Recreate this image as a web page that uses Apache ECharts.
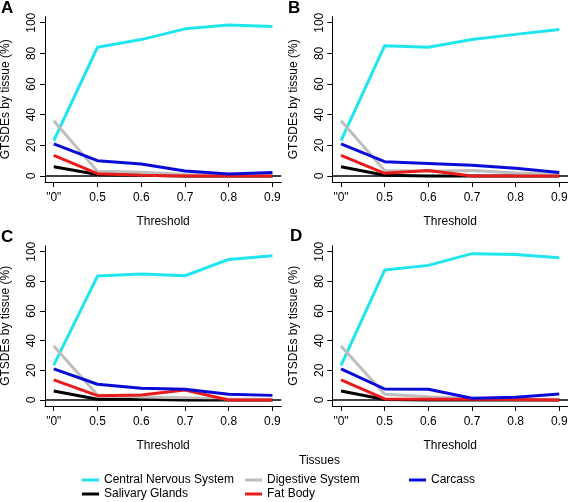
<!DOCTYPE html>
<html>
<head>
<meta charset="utf-8">
<script src="https://cdn.jsdelivr.net/npm/echarts@6/dist/echarts.min.js"></script>
<style>
html,body{margin:0;padding:0;background:#fff;}
#chart{width:568px;height:502px;}
</style>
</head>
<body>
<div id="chart"></div>
<script>
// ---- data ----
const thresholds = ['"0"', '0.5', '0.6', '0.7', '0.8', '0.9'];
const yTicks = [0, 20, 40, 60, 80, 100];
const tissues = ['Central Nervous System', 'Salivary Glands', 'Digestive System', 'Fat Body', 'Carcass'];
const tissueColors = ['#1fe6ee', '#000000', '#bebebe', '#e81c1c', '#0b0bd8'];
const panelLetters = ['A', 'B', 'C', 'D'];

// Panel A
const cnsA = [23, 84, 89, 96, 98.5, 97.5];
const salA = [6, 1, 0.5, 0, 0, 0];
const digA = [36, 3, 2.5, 1, 0.5, 0.5];
const fatA = [13.5, 1.5, 0.5, 0, 0, 0];
const carA = [21, 10, 7.8, 3.3, 1.3, 2.2];
// Panel B
const cnsB = [23, 85, 84, 89, 92.4, 95.6];
const salB = [6, 0.5, 0, 0, 0, 0];
const digB = [36, 3.5, 3, 3.5, 2, 1];
const fatB = [13.5, 1.7, 3.5, 0, 0, 0];
const carB = [21, 9.3, 8.2, 7, 5, 2.2];
// Panel C
const cnsC = [23.5, 83.6, 85, 83.8, 94.8, 97.3];
const salC = [6, 0.5, 0.5, 0, 0, 0];
const digC = [36.4, 3.4, 2, 1.5, 0.5, 0.5];
const fatC = [13.5, 2.9, 3.4, 6.7, 0, 0];
const carC = [21, 10.6, 7.9, 7.2, 3.8, 3.1];
// Panel D
const cnsD = [23.4, 87.6, 90.8, 98.7, 98.2, 96];
const salD = [6, 0.3, 0, 0, 0, 0];
const digD = [36.4, 3.8, 2.2, 1, 0.5, 0.5];
const fatD = [13.5, 0.7, 0.5, 0.5, 0.3, 0];
const carD = [21, 7.4, 7.2, 1.1, 1.8, 4];

const panels = [
  [cnsA, salA, digA, fatA, carA],
  [cnsB, salB, digB, fatB, carB],
  [cnsC, salC, digC, fatC, carC],
  [cnsD, salD, digD, fatD, carD]
];

// ---- layout ----
const FONT = 'Liberation Sans, Arial, Helvetica, sans-serif';
const gridPos = [
  {left: 45, top: 16.6, width: 236.2, height: 165.5},
  {left: 332.3, top: 16.6, width: 235.7, height: 165.5},
  {left: 45, top: 245.8, width: 236.2, height: 160.1},
  {left: 332.3, top: 245.8, width: 235.7, height: 160.1}
];
const letterPos = [
  {left: 1, top: 0},
  {left: 288, top: 0},
  {left: 1, top: 229},
  {left: 290, top: 228}
];

const grids = [], xAxes = [], yAxes = [], series = [], titles = [];
const xIdx = thresholds.map((_, i) => i);

gridPos.forEach((g, p) => {
  grids.push(Object.assign({outerBoundsMode: 'none', containLabel: false}, g));
  xAxes.push({
    type: 'value', gridIndex: p, min: -0.2, max: 5.2,
    name: 'Threshold', nameLocation: 'middle', nameGap: 34,
    nameTextStyle: {fontFamily: FONT, fontSize: 12, color: '#000'},
    axisLine: {show: true, onZero: false, lineStyle: {color: '#000', width: 1}},
    axisTick: {show: true, length: 5, customValues: xIdx, lineStyle: {color: '#000', width: 1}},
    axisLabel: {show: true, customValues: xIdx, margin: 10, fontFamily: FONT, fontSize: 12, color: '#000',
      formatter: v => thresholds[Math.round(v)]},
    splitLine: {show: false}
  });
  yAxes.push({
    type: 'value', gridIndex: p, min: -4, max: 104,
    name: 'GTSDEs by tissue (%)', nameLocation: 'middle', nameGap: 33,
    nameTextStyle: {fontFamily: FONT, fontSize: 12, color: '#000'},
    axisLine: {show: true, onZero: false, lineStyle: {color: '#000', width: 1}},
    axisTick: {show: true, length: 5, customValues: yTicks, lineStyle: {color: '#000', width: 1}},
    axisLabel: {show: true, customValues: yTicks, rotate: 90, margin: 7, fontFamily: FONT, fontSize: 12, color: '#000'},
    splitLine: {show: false}
  });
  panels[p].forEach((vals, t) => {
    const s = {
      type: 'line', name: tissues[t], xAxisIndex: p, yAxisIndex: p,
      data: vals.map((v, i) => [i, v]),
      showSymbol: false, symbol: 'none',
      color: tissueColors[t],
      lineStyle: {color: tissueColors[t], width: 3},
      z: 2 + t
    };
    if (t === 1) {
      s.markLine = {
        silent: true, symbol: ['none', 'none'], label: {show: false},
        lineStyle: {color: '#000', width: 1.5, type: 'solid'},
        data: [{yAxis: 0}]
      };
    }
    series.push(s);
  });
  titles.push({
    text: panelLetters[p], left: letterPos[p].left, top: letterPos[p].top, padding: 0,
    textStyle: {fontFamily: FONT, fontSize: 17, fontWeight: 'bold', color: '#000'}
  });
});

titles.push({
  text: 'Tissues', left: 299, top: 455, padding: 0,
  textStyle: {fontFamily: FONT, fontSize: 12, fontWeight: 'normal', color: '#000'}
});

const legendPos = [
  {left: 82, top: 474}, // CNS
  {left: 82, top: 488}, // Salivary
  {left: 245, top: 474}, // Digestive
  {left: 245, top: 488}, // Fat body
  {left: 409, top: 474}  // Carcass
];
const legends = tissues.map((name, t) => ({
  data: [{name: name, icon: 'rect'}],
  left: legendPos[t].left, top: legendPos[t].top, padding: 0,
  itemWidth: 17, itemHeight: 3, selectedMode: false,
  textStyle: {fontFamily: FONT, fontSize: 12, color: '#000'}
}));

const chart = echarts.init(document.getElementById('chart'), null, {renderer: 'canvas'});
chart.setOption({
  animation: false,
  backgroundColor: '#fff',
  title: titles,
  legend: legends,
  grid: grids,
  xAxis: xAxes,
  yAxis: yAxes,
  series: series
});
</script>
</body>
</html>
